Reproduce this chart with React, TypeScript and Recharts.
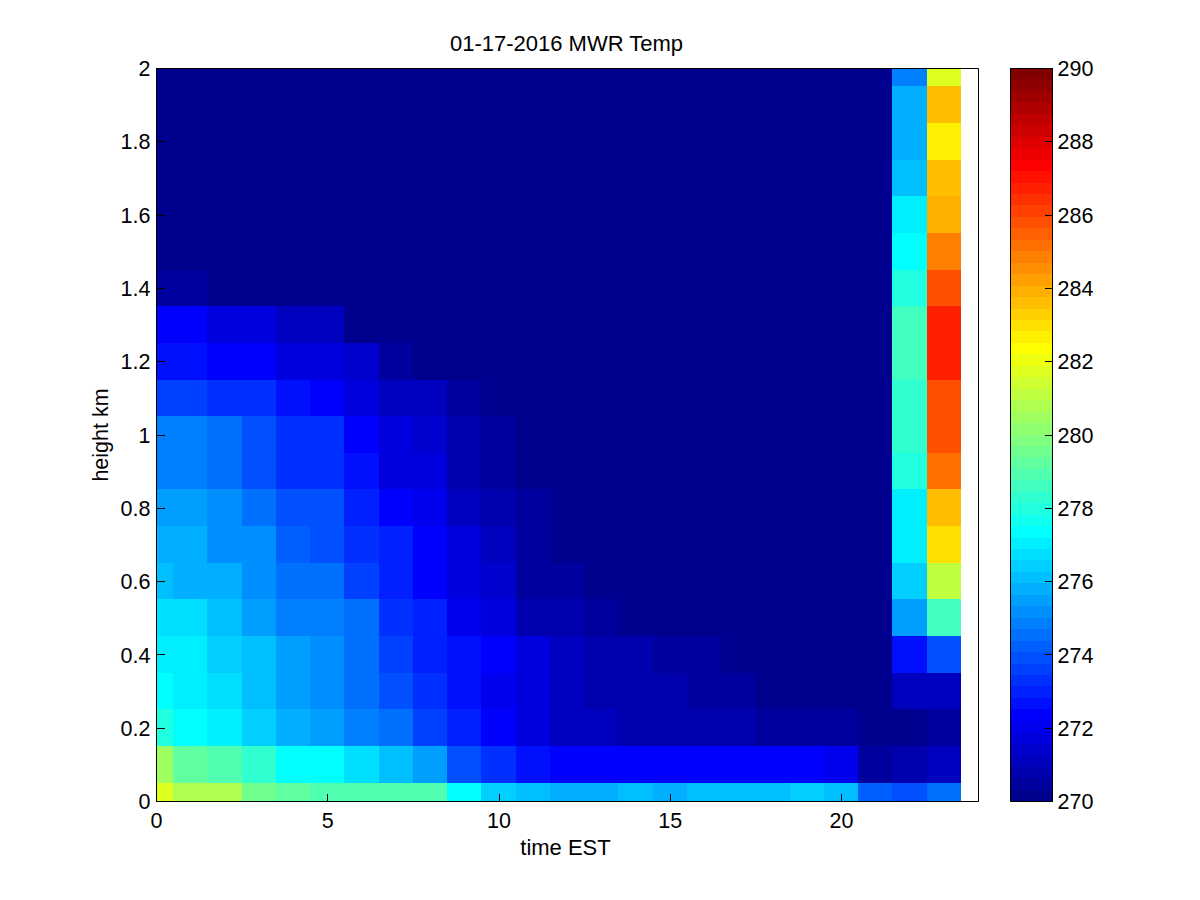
import { ComposedChart, ReferenceArea, XAxis, YAxis } from "recharts";

const timeEdges = [
  0, 0.5, 1.5, 2.5, 3.5, 4.5, 5.5, 6.5, 7.5, 8.5, 9.5, 10.5, 11.5, 12.5, 13.5, 14.5, 15.5, 16.5,
  17.5, 18.5, 19.5, 20.5, 21.5, 22.5, 23.5,
];
const heightEdges = [
  0, 0.05, 0.15, 0.25, 0.35, 0.45, 0.55, 0.65, 0.75, 0.85, 0.95, 1.05, 1.15, 1.25, 1.35, 1.45, 1.55,
  1.65, 1.75, 1.85, 1.95, 2,
];

// one row per height, bottom to top, one value per hour
const temps = [
  [281.7, 280.8, 280.8, 279.5, 279.3, 279, 279, 278.9, 278.9, 277.3, 276.4, 276.1, 275.9, 275.9, 276.1, 275.8, 276.1, 276.1, 276.1, 276.4, 276.1, 274.2, 273.9, 274.5],
  [280.4, 279.2, 278.9, 278.3, 277.3, 277.3, 276.8, 276.1, 275.4, 274, 273.4, 272.7, 272.4, 272.4, 272.4, 272.4, 272.4, 272.4, 272.4, 272.4, 272, 270.6, 270.8, 271.2],
  [277.9, 277.3, 277, 276.4, 275.8, 275.5, 274.8, 274.5, 273.6, 273, 272.4, 271.7, 271.1, 271.1, 270.8, 270.8, 270.8, 270.8, 270.6, 270.6, 270.5, 270.1, 270.1, 270.6],
  [277.3, 277, 276.6, 276.1, 275.4, 275.2, 274.6, 273.9, 273.4, 272.7, 272, 271.7, 271.1, 270.9, 270.9, 270.9, 270.5, 270.5, 270.1, 270.1, 270.1, 270.1, 271.2, 271.2],
  [276.9, 276.9, 276.3, 276.1, 275.4, 275.1, 274.5, 273.6, 273.1, 272.7, 272.3, 271.8, 271.1, 270.9, 270.9, 270.5, 270.5, 270.1, 270.1, 270.1, 270.1, 270.1, 272.6, 273.8],
  [276.6, 276.6, 276, 275.5, 274.8, 274.8, 274.4, 273.4, 272.9, 271.9, 271.6, 270.9, 270.7, 270.5, 270.1, 270.1, 270.1, 270.1, 270.1, 270.1, 270.1, 270.1, 275.5, 278.5],
  [276.1, 275.8, 275.7, 275.1, 274.4, 274.4, 273.5, 273.1, 272.3, 271.6, 271.3, 270.5, 270.5, 270.1, 270.1, 270.1, 270.1, 270.1, 270.1, 270.1, 270.1, 270.1, 276.4, 281.2],
  [275.8, 275.8, 275.3, 275, 274.3, 274, 273.3, 272.9, 272.3, 271.6, 271.2, 270.4, 270.1, 270.1, 270.1, 270.1, 270.1, 270.1, 270.1, 270.1, 270.1, 270.1, 277, 283.1],
  [275.4, 275.4, 275, 274.5, 274, 274, 273.1, 272.4, 272.1, 271.1, 270.8, 270.5, 270.1, 270.1, 270.1, 270.1, 270.1, 270.1, 270.1, 270.1, 270.1, 270.1, 277, 283.7],
  [274.7, 274.7, 274.4, 273.8, 273.3, 273.3, 272.7, 271.8, 271.6, 270.9, 270.5, 270.1, 270.1, 270.1, 270.1, 270.1, 270.1, 270.1, 270.1, 270.1, 270.1, 270.1, 277.9, 285.3],
  [274.8, 274.8, 274.4, 273.8, 273.3, 273.3, 272.4, 271.8, 271.5, 270.7, 270.5, 270.1, 270.1, 270.1, 270.1, 270.1, 270.1, 270.1, 270.1, 270.1, 270.1, 270.1, 278.2, 285.8],
  [273.7, 273.7, 273.3, 273.3, 272.6, 272.4, 271.8, 271.2, 271.2, 270.5, 270.1, 270.1, 270.1, 270.1, 270.1, 270.1, 270.1, 270.1, 270.1, 270.1, 270.1, 270.1, 278.2, 285.8],
  [272.7, 272.7, 272.4, 272.4, 271.8, 271.8, 271.4, 270.6, 270.1, 270.1, 270.1, 270.1, 270.1, 270.1, 270.1, 270.1, 270.1, 270.1, 270.1, 270.1, 270.1, 270.1, 278.5, 286.6],
  [272.4, 272.4, 271.6, 271.6, 271, 271, 270.1, 270.1, 270.1, 270.1, 270.1, 270.1, 270.1, 270.1, 270.1, 270.1, 270.1, 270.1, 270.1, 270.1, 270.1, 270.1, 278.5, 286.6],
  [270.6, 270.6, 270.1, 270.1, 270.1, 270.1, 270.1, 270.1, 270.1, 270.1, 270.1, 270.1, 270.1, 270.1, 270.1, 270.1, 270.1, 270.1, 270.1, 270.1, 270.1, 270.1, 278, 285.9],
  [270.1, 270.1, 270.1, 270.1, 270.1, 270.1, 270.1, 270.1, 270.1, 270.1, 270.1, 270.1, 270.1, 270.1, 270.1, 270.1, 270.1, 270.1, 270.1, 270.1, 270.1, 270.1, 277.3, 284.8],
  [270.1, 270.1, 270.1, 270.1, 270.1, 270.1, 270.1, 270.1, 270.1, 270.1, 270.1, 270.1, 270.1, 270.1, 270.1, 270.1, 270.1, 270.1, 270.1, 270.1, 270.1, 270.1, 277, 284],
  [270.1, 270.1, 270.1, 270.1, 270.1, 270.1, 270.1, 270.1, 270.1, 270.1, 270.1, 270.1, 270.1, 270.1, 270.1, 270.1, 270.1, 270.1, 270.1, 270.1, 270.1, 270.1, 276.1, 283.6],
  [270.1, 270.1, 270.1, 270.1, 270.1, 270.1, 270.1, 270.1, 270.1, 270.1, 270.1, 270.1, 270.1, 270.1, 270.1, 270.1, 270.1, 270.1, 270.1, 270.1, 270.1, 270.1, 275.7, 282.6],
  [270.1, 270.1, 270.1, 270.1, 270.1, 270.1, 270.1, 270.1, 270.1, 270.1, 270.1, 270.1, 270.1, 270.1, 270.1, 270.1, 270.1, 270.1, 270.1, 270.1, 270.1, 270.1, 275.7, 283.7],
  [270.1, 270.1, 270.1, 270.1, 270.1, 270.1, 270.1, 270.1, 270.1, 270.1, 270.1, 270.1, 270.1, 270.1, 270.1, 270.1, 270.1, 270.1, 270.1, 270.1, 270.1, 270.1, 274.8, 281.7],
];

const timeTicks = [0, 5, 10, 15, 20];
const heightTicks = [0, 0.2, 0.4, 0.6, 0.8, 1, 1.2, 1.4, 1.6, 1.8, 2];
const tempTicks = [270, 272, 274, 276, 278, 280, 282, 284, 286, 288, 290];
const tempMin = 270;
const tempMax = 290;
const levels = 64;

// matlab jet(64)
function jet(i: number) {
  const ramp = (v: number) => Math.round(Math.max(0, Math.min(1, v)) * 255);
  const t = (i + 1) / 16;
  const r = ramp(Math.min(t - 1.5, 4.5 - t));
  const g = ramp(Math.min(t - 0.5, 3.5 - t));
  const b = ramp(Math.min(t + 0.5, 2.5 - t));
  return `rgb(${r},${g},${b})`;
}

function tempColor(v: number) {
  const i = Math.floor(((v - tempMin) / (tempMax - tempMin)) * levels);
  return jet(Math.max(0, Math.min(levels - 1, i)));
}

const barSteps = Array.from({ length: levels }, (_, i) => i);

const FONT = 21.5;
const tickStyle = { fill: "#000", fontSize: FONT };
const line = { stroke: "#000" };
const tickLine = { stroke: "#000", shapeRendering: "crispEdges" };
const layer = { position: "absolute", left: 0, top: 0 } as const;
const heatMargin = { top: 67.5, right: 220.5, bottom: 97.5, left: 155.5 };
const barMargin = { top: 67.5, right: 146.5, bottom: 97.5, left: 1009.5 };
const heatCellMargin = { top: 67, right: 221, bottom: 98, left: 155 };
const barCellMargin = { top: 67, right: 146, bottom: 98, left: 1009 };

// reference areas paint over axes, so the colored cells get their own layer under the axes
function HeatCells() {
  return (
    <ComposedChart data={[]} height={900} margin={heatCellMargin} style={layer} width={1200}>
      <XAxis allowDataOverflow axisLine={false} dataKey="x" domain={[0, 24]} height={1} tick={false} tickLine={false} type="number" xAxisId="b" />
      <XAxis allowDataOverflow axisLine={false} dataKey="x" domain={[0, 24]} height={1} orientation="top" tick={false} tickLine={false} type="number" xAxisId="t" />
      <YAxis allowDataOverflow axisLine={false} domain={[0, 2]} tick={false} tickLine={false} type="number" width={1} yAxisId="l" />
      <YAxis allowDataOverflow axisLine={false} domain={[0, 2]} orientation="right" tick={false} tickLine={false} type="number" width={1} yAxisId="r" />
      {temps.map((row, r) =>
        row.map((v, c) => (
          <ReferenceArea
            fill={tempColor(v)}
            fillOpacity={1}
            ifOverflow="visible"
            key={`${r}-${c}`}
            shapeRendering="crispEdges"
            stroke="none"
            x1={timeEdges[c]}
            x2={timeEdges[c + 1]}
            xAxisId="b"
            y1={heightEdges[r]}
            y2={heightEdges[r + 1]}
            yAxisId="l"
          />
        )),
      )}
    </ComposedChart>
  );
}

function HeatAxes() {
  return (
    <ComposedChart data={[]} height={900} margin={heatMargin} style={layer} width={1200}>
      <XAxis
        allowDataOverflow
        axisLine={line}
        dataKey="x"
        domain={[0, 24]}
        height={1}
        interval={0}
        label={{ value: "time EST", position: "bottom", offset: 37, dx: -2, fill: "#000", fontSize: 22 }}
        orientation="bottom"
        tick={tickStyle}
        tickLine={tickLine}
        tickMargin={19}
        tickSize={-8}
        ticks={timeTicks}
        type="number"
        xAxisId="b"
      />
      <XAxis
        allowDataOverflow
        axisLine={line}
        dataKey="x"
        domain={[0, 24]}
        height={1}
        interval={0}
        label={{ value: "01-17-2016 MWR Temp", position: "top", offset: 17, dx: -1, fill: "#000", fontSize: 22 }}
        orientation="top"
        tick={false}
        tickLine={tickLine}
        tickSize={-8}
        ticks={timeTicks}
        type="number"
        xAxisId="t"
      />
      <YAxis
        allowDataOverflow
        axisLine={line}
        domain={[0, 2]}
        interval={0}
        label={{ value: "height km", angle: -90, position: "center", dx: -56, fill: "#000", fontSize: FONT }}
        orientation="left"
        tick={tickStyle}
        tickLine={tickLine}
        tickMargin={14}
        tickSize={-8}
        ticks={heightTicks}
        type="number"
        width={1}
        yAxisId="l"
      />
      <YAxis
        allowDataOverflow
        axisLine={line}
        domain={[0, 2]}
        interval={0}
        orientation="right"
        tick={false}
        tickLine={tickLine}
        tickSize={-8}
        ticks={heightTicks}
        type="number"
        width={1}
        yAxisId="r"
      />
    </ComposedChart>
  );
}

function BarCells() {
  return (
    <ComposedChart data={[]} height={900} margin={barCellMargin} style={layer} width={1200}>
      <XAxis allowDataOverflow axisLine={false} dataKey="x" domain={[0, 1]} height={1} tick={false} tickLine={false} type="number" xAxisId="b" />
      <XAxis allowDataOverflow axisLine={false} dataKey="x" domain={[0, 1]} height={1} orientation="top" tick={false} tickLine={false} type="number" xAxisId="t" />
      <YAxis allowDataOverflow axisLine={false} domain={[tempMin, tempMax]} tick={false} tickLine={false} type="number" width={1} yAxisId="l" />
      <YAxis allowDataOverflow axisLine={false} domain={[tempMin, tempMax]} orientation="right" tick={false} tickLine={false} type="number" width={1} yAxisId="r" />
      {barSteps.map((i) => (
        <ReferenceArea
          fill={jet(i)}
          fillOpacity={1}
          ifOverflow="visible"
          key={i}
          shapeRendering="crispEdges"
          stroke="none"
          x1={0}
          x2={1}
          xAxisId="b"
          y1={tempMin + (i * (tempMax - tempMin)) / levels}
          y2={tempMin + ((i + 1) * (tempMax - tempMin)) / levels}
          yAxisId="l"
        />
      ))}
    </ComposedChart>
  );
}

function BarAxes() {
  return (
    <ComposedChart data={[]} height={900} margin={barMargin} style={layer} width={1200}>
      <XAxis allowDataOverflow axisLine={line} dataKey="x" domain={[0, 1]} height={1} orientation="bottom" tick={false} tickLine={false} ticks={[0, 1]} type="number" xAxisId="b" />
      <XAxis allowDataOverflow axisLine={line} dataKey="x" domain={[0, 1]} height={1} orientation="top" tick={false} tickLine={false} ticks={[0, 1]} type="number" xAxisId="t" />
      <YAxis
        allowDataOverflow
        axisLine={line}
        domain={[tempMin, tempMax]}
        interval={0}
        orientation="left"
        tick={false}
        tickLine={tickLine}
        tickSize={-8}
        ticks={tempTicks}
        type="number"
        width={1}
        yAxisId="l"
      />
      <YAxis
        allowDataOverflow
        axisLine={line}
        domain={[tempMin, tempMax]}
        interval={0}
        orientation="right"
        tick={tickStyle}
        tickLine={tickLine}
        tickMargin={13}
        tickSize={-8}
        ticks={tempTicks}
        type="number"
        width={1}
        yAxisId="r"
      />
    </ComposedChart>
  );
}

export default function App() {
  return (
    <div style={{ ...layer, width: 1200, height: 900, background: "#fff", fontFamily: "'Liberation Sans', Arial, sans-serif" }}>
      <HeatCells />
      <BarCells />
      <HeatAxes />
      <BarAxes />
    </div>
  );
}
